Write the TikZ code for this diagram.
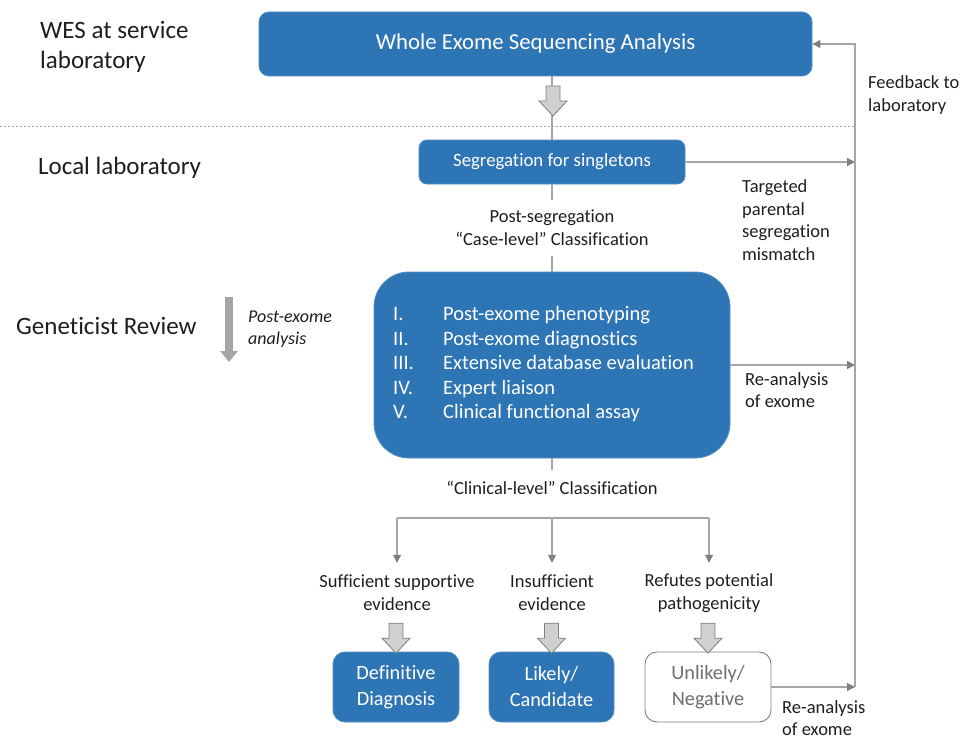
\documentclass[tikz,border=0pt]{standalone}
\usepackage{fontspec}
\setmainfont{Carlito}[Ligatures={NoCommon,NoContextual}]
\usetikzlibrary{arrows.meta}
\definecolor{boxblue}{HTML}{2E75B6}
\definecolor{boxedge}{HTML}{4F8CC4}
\definecolor{linegray}{HTML}{A6A6A6}
\definecolor{headgray}{HTML}{7F7F7F}
\definecolor{blockfill}{HTML}{D0D0D0}
\definecolor{txt}{HTML}{1E1E1E}
\definecolor{softtxt}{HTML}{6F6F6F}
\begin{document}
\begin{tikzpicture}[x=1pt,y=-1pt,
  bluebox/.style={draw=boxedge, line width=0.8pt, fill=boxblue, text=white, align=center, inner sep=0pt},
  whitebox/.style={draw=headgray, line width=0.9pt, fill=white, text=softtxt, align=center, inner sep=0pt},
  lab/.style={text=txt, align=center, inner sep=0pt, font=\fontsize{18.5}{23}\selectfont},
  sidelab/.style={text=txt, align=left, inner sep=0pt, anchor=west, font=\fontsize{18.5}{22.5}\selectfont},
  head/.style={text=txt, align=left, inner sep=0pt, anchor=west, font=\fontsize{25}{30}\selectfont},
  conn/.style={draw=linegray, line width=1.1pt},
  arr/.style={conn, -{Triangle[length=8pt,width=8pt,color=headgray]}},
  blockarr/.pic={\draw[draw=headgray, fill=blockfill, line width=0.8pt, line join=miter]
     (-7,0) -- (7,0) -- (7,15) -- (14,15) -- (0,30) -- (-14,15) -- (-7,15) -- cycle;}
]
\useasboundingbox (0,0) rectangle (963,741);

% main boxes
\node[bluebox, minimum width=553pt, minimum height=64pt, rounded corners=10pt,
      font=\fontsize{22.8}{27}\selectfont] (wes) at (535.5,44) {\raisebox{-2pt}{Whole Exome Sequencing Analysis}};
\node[bluebox, minimum width=266pt, minimum height=44pt, rounded corners=8pt,
      font=\fontsize{18.8}{22}\selectfont] (seg) at (552,162) {Segregation for singletons};
\node[lab, minimum height=56pt] (case) at (552,228) {Post-segregation\\“Case-level” Classification};
\node[bluebox, minimum width=356pt, minimum height=186pt, rounded corners=35pt] (rev) at (552,365) {};
\node[text=white, anchor=west, inner sep=0pt, font=\fontsize{20.5}{24.5}\selectfont] (items) at (393,365)
  {\begin{tabular}{@{}p{50pt}@{}l@{}}
   I. & Post-exome phenotyping\\
   II. & Post-exome diagnostics\\
   III. & Extensive database evaluation\\
   IV. & Expert liaison\\
   V. & Clinical functional assay
   \end{tabular}};
\node[lab, minimum height=36pt] (clin) at (552,488) {“Clinical-level” Classification};

\coordinate (br1) at (397,518);
\coordinate (br3) at (709,518);
\node[lab, minimum height=60pt] (ev1) at (397,593) {Sufficient supportive\\evidence};
\node[lab, minimum height=60pt] (ev2) at (552,593) {Insufficient\\evidence};
\node[lab, minimum height=60pt] (ev3) at (709,593) {Refutes potential\\pathogenicity};
\coordinate (br2) at (br1 -| ev2);

\node[bluebox, minimum width=126pt, minimum height=70pt, rounded corners=12pt,
      font=\fontsize{20.3}{26}\selectfont] (dx) at (396,687) {Definitive\\Diagnosis};
\node[bluebox, minimum width=125pt, minimum height=70pt, rounded corners=12pt,
      font=\fontsize{20.3}{26}\selectfont] (lk) at (551.5,687) {Likely/\\Candidate};
\node[whitebox, minimum width=126pt, minimum height=70pt, rounded corners=12pt,
      font=\fontsize{20.3}{26}\selectfont] (un) at (708,687) {Unlikely/\\Negative};

% left headings and side labels
\node[head] (h1) at (40,47) {WES at service\\laboratory};
\node[head] (h2) at (38,168) {Local laboratory};
\node[head] (h3) at (16,326) {Geneticist Review};
\node[sidelab, font=\fontsize{18}{22}\selectfont\itshape] (pe) at (248,329) {Post-exome\\analysis};
\node[sidelab] (fbl) at (868,95) {Feedback to\\laboratory};
\node[sidelab] (tgt) at (742,220) {Targeted\\parental\\segregation\\mismatch};
\node[sidelab] (ra1) at (745,390) {Re-analysis\\of exome};
\node[sidelab] (ra2) at (782,718) {Re-analysis\\of exome};

% dashed separator
\coordinate (fb) at (855,687);
\coordinate (dl) at (0,126);
\draw[draw=linegray, line width=0.8pt, dash pattern=on 2pt off 2pt] (dl) -- (dl -| fb);

% connectors
\draw[conn] (wes.south -| seg.north) -- (seg.north);
\pic at (553,86) {blockarr};
\draw[conn] (seg) -- (case);
\draw[conn] (case) -- (rev);
\draw[conn] (rev) -- (clin);
\draw[conn] (br1) -- (br3);
\draw[arr] (br1) -- (ev1);
\draw[arr] (br2) -- (ev2);
\draw[arr] (br3) -- (ev3);
\pic at (ev1.south -| dx.north) {blockarr};
\pic at (ev2.south -| lk.north) {blockarr};
\pic at (ev3.south -| un.north) {blockarr};

\draw[arr] (seg.east) -- (seg.east -| fb);
\draw[arr] (rev.east) -- (rev.east -| fb);
\draw[arr] (un.east) -- (fb);
\draw[arr] (fb) -- (fb |- wes.east) -- (wes.east);

% post-exome analysis arrow
\coordinate (pa1) at (229,297);
\coordinate (pa2) at (229,362);
\draw[draw=linegray, line width=8pt, -{Triangle[length=11pt,width=17pt]}] (pa1) -- (pa2);
\end{tikzpicture}
\end{document}
